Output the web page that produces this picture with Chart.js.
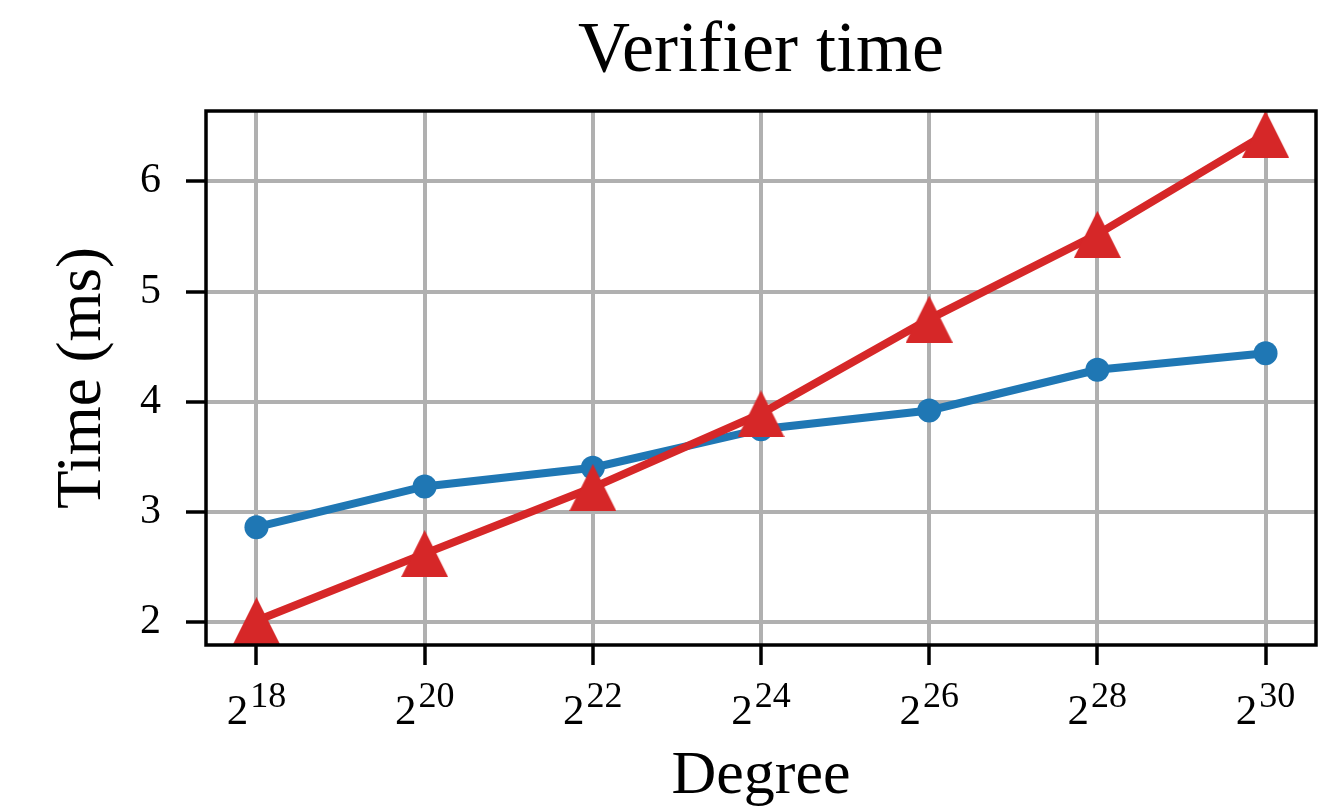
<!DOCTYPE html>
<html>
<head>
<meta charset="utf-8">
<script src="https://cdn.jsdelivr.net/npm/chart.js@4/dist/chart.umd.min.js"></script>
<style>
  html, body { margin: 0; padding: 0; background: #ffffff; }
  #grafico { display: block; }
</style>
</head>
<body>
<canvas id="grafico" width="1327" height="810"></canvas>
<script>
// =======================
// DATOS
// =======================
const exponentes = [18, 20, 22, 24, 26, 28, 30];
const tiempoAzul = [2.86, 3.23, 3.40, 3.75, 3.92, 4.29, 4.44];
const tiempoRojo = [2.01, 2.62, 3.22, 3.89, 4.75, 5.52, 6.43];
const ticksY = [2, 3, 4, 5, 6];

const FUENTE = '"Liberation Serif", "DejaVu Serif", serif';
const AZUL = "#1f77b4";
const ROJO = "#d62728";

// triangulo tipo matplotlib (centrado en su caja)
function hacerTriangulo(size, color) {
  const c = document.createElement("canvas");
  c.width = size;
  c.height = size;
  const ctx = c.getContext("2d");
  ctx.fillStyle = color;
  ctx.beginPath();
  ctx.moveTo(size / 2, 0);
  ctx.lineTo(size, size);
  ctx.lineTo(0, size);
  ctx.closePath();
  ctx.fill();
  return c;
}

// =======================
// PLUGINS
// =======================
const marco = {
  id: "marco",
  afterDatasetsDraw(chart) {
    const a = chart.chartArea;
    const ctx = chart.ctx;
    ctx.save();
    ctx.strokeStyle = "#000000";
    ctx.lineWidth = 3.5;
    ctx.strokeRect(a.left, a.top, a.right - a.left, a.bottom - a.top);
    ctx.restore();
  }
};

// etiquetas 2^n con superindice
const etiquetasX = {
  id: "etiquetasX",
  afterDraw(chart) {
    const sx = chart.scales.x;
    const ctx = chart.ctx;
    const yBase = chart.chartArea.bottom + 79;
    ctx.save();
    ctx.fillStyle = "#000000";
    ctx.textBaseline = "alphabetic";
    exponentes.forEach(e => {
      const x = sx.getPixelForValue(e);
      ctx.font = "43px " + FUENTE;
      const wBase = ctx.measureText("2").width;
      ctx.font = "36px " + FUENTE;
      const wExp = ctx.measureText(String(e)).width;
      const inicio = x - (wBase + 2 + wExp) / 2;
      ctx.font = "43px " + FUENTE;
      ctx.fillText("2", inicio, yBase);
      ctx.font = "36px " + FUENTE;
      ctx.fillText(String(e), inicio + wBase + 2, yBase - 17);
    });
    ctx.restore();
  }
};

// =======================
// GRAFICO
// =======================
new Chart(document.getElementById("grafico"), {
  type: "line",
  data: {
    datasets: [
      {
        data: exponentes.map((e, i) => ({ x: e, y: tiempoAzul[i] })),
        borderColor: AZUL,
        backgroundColor: AZUL,
        borderWidth: 8,
        pointStyle: "circle",
        pointRadius: 12,
        pointBorderWidth: 0,
        pointBackgroundColor: AZUL,
        order: 2,
        clip: false
      },
      {
        data: exponentes.map((e, i) => ({ x: e, y: tiempoRojo[i] })),
        borderColor: ROJO,
        backgroundColor: ROJO,
        borderWidth: 8,
        pointStyle: hacerTriangulo(47, ROJO),
        pointRadius: 24,
        pointBorderWidth: 0,
        order: 1,
        clip: false
      }
    ]
  },
  options: {
    responsive: false,
    animation: false,
    devicePixelRatio: 1,
    layout: { autoPadding: false, padding: { left: 0, right: 11, top: 0, bottom: 0 } },
    plugins: {
      legend: { display: false },
      tooltip: { enabled: false },
      title: {
        display: true,
        text: "Verifier time",
        fullSize: false,
        color: "#000000",
        font: { family: FUENTE, size: 72, weight: "normal", lineHeight: 1.2 },
        padding: { top: 9, bottom: 15.6 }
      }
    },
    scales: {
      x: {
        type: "linear",
        min: 17.4,
        max: 30.6,
        afterBuildTicks: s => { s.ticks = exponentes.map(v => ({ value: v })); },
        afterFit: s => { s.height = 165; },
        border: { display: false },
        grid: {
          color: "#b0b0b0",
          lineWidth: 4,
          drawTicks: true,
          tickLength: 20,
          tickColor: "#000000",
          tickWidth: 3.5
        },
        ticks: { display: false },
        title: {
          display: true,
          text: "Degree",
          color: "#000000",
          font: { family: FUENTE, size: 62, lineHeight: 1 },
          padding: { top: 0, bottom: 2 }
        }
      },
      y: {
        type: "linear",
        min: 1.79,
        max: 6.64,
        afterBuildTicks: s => { s.ticks = ticksY.map(v => ({ value: v })); },
        afterFit: s => { s.width = 206; },
        border: { display: false },
        grid: {
          color: "#b0b0b0",
          lineWidth: 4,
          drawTicks: true,
          tickLength: 20,
          tickColor: "#000000",
          tickWidth: 3.5
        },
        ticks: {
          color: "#000000",
          padding: 25,
          font: { family: FUENTE, size: 42 },
          callback: v => String(v)
        },
        title: {
          display: true,
          text: "Time (ms)",
          color: "#000000",
          font: { family: FUENTE, size: 63, lineHeight: 1.2 },
          padding: { top: 46, bottom: 0 }
        }
      }
    }
  },
  plugins: [marco, etiquetasX]
});
</script>
</body>
</html>
